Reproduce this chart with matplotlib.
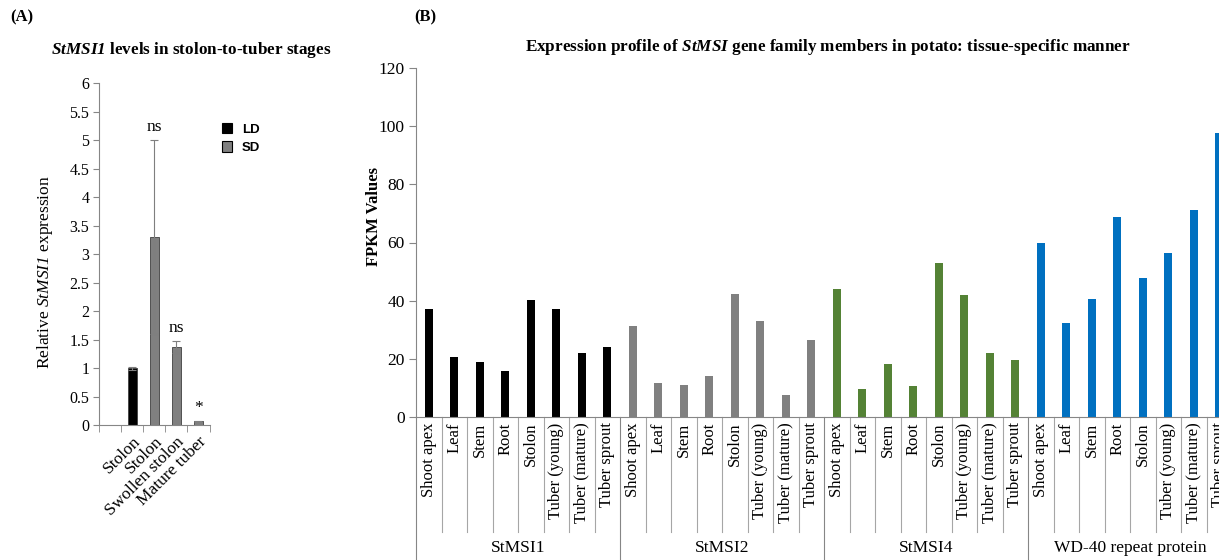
import numpy as np
import matplotlib
matplotlib.use("Agg")
import matplotlib.pyplot as plt
from matplotlib.patches import Patch
from matplotlib.transforms import blended_transform_factory

plt.rcParams['font.family'] = ['Liberation Serif', 'DejaVu Serif']
plt.rcParams['mathtext.fontset'] = 'custom'
plt.rcParams['mathtext.rm'] = 'Liberation Serif'
plt.rcParams['mathtext.it'] = 'Liberation Serif:italic'
plt.rcParams['mathtext.sf'] = 'Liberation Serif:italic'  # italic digits
plt.rcParams['mathtext.bf'] = 'Liberation Serif:bold'
plt.rcParams['mathtext.bfit'] = 'Liberation Serif:italic:bold'

# (A) qPCR, stolon-to-tuber stages
a_stages = ['Stolon', 'Stolon', 'Swollen stolon', 'Mature tuber']
a_condition = ['LD', 'SD', 'SD', 'SD']
a_means = [1.0, 3.31, 1.37, 0.07]
a_errs = [0.03, 1.70, 0.11, 0.01]
a_marks = ['', 'ns', 'ns', '*']

# (B) FPKM, tissue-specific expression
tissues = ['Shoot apex', 'Leaf', 'Stem', 'Root', 'Stolon',
           'Tuber (young)', 'Tuber (mature)', 'Tuber sprout']
genes = ['StMSI1', 'StMSI2', 'StMSI4', 'WD-40 repeat protein']
fpkm_msi1 = [37.0, 20.7, 18.7, 15.7, 40.2, 37.2, 22.0, 24.0]
fpkm_msi2 = [31.2, 11.6, 11.0, 14.0, 42.3, 33.0, 7.5, 26.3]
fpkm_msi4 = [44.0, 9.5, 18.0, 10.5, 53.0, 42.0, 22.0, 19.5]
fpkm_wd40 = [59.7, 32.2, 40.4, 68.9, 47.7, 56.3, 71.2, 97.6]

cond_colors = {'LD': '#000000', 'SD': '#808080'}
gene_colors = ['#000000', '#808080', '#548235', '#0070C0']
axis_grey = '#868686'

W, H = 1219, 560
fig = plt.figure(figsize=(W / 100, H / 100), dpi=100)


def px_axes(x0, y0, x1, y1):
    return fig.add_axes([x0 / W, 1 - y1 / H, (x1 - x0) / W, (y1 - y0) / H])


# ---------------- panel A ----------------
axa = px_axes(99, 83.3, 209.5, 425.3)
pos = np.arange(1, len(a_stages) + 1)
for x, cond, m, e, mark in zip(pos, a_condition, a_means, a_errs, a_marks):
    axa.bar(x, m, width=0.4, color=cond_colors[cond], edgecolor='#404040',
            linewidth=0.6, zorder=2)
    axa.errorbar(x, m, yerr=e, color='#7f7f7f', capsize=3, elinewidth=0.8,
                 capthick=0.8, zorder=3)
    if mark:
        axa.text(x, m + e + 0.08, mark, ha='center', va='bottom', fontsize=12.5)

axa.set_xlim(-0.5, 4.5)
axa.set_ylim(0, 6)
axa.set_yticks(np.arange(0, 6.01, 0.5))
axa.set_yticklabels(['%g' % v for v in np.arange(0, 6.01, 0.5)], fontsize=11.5)
axa.set_xticks(pos)
axa.set_xticklabels(a_stages, rotation=45, ha='right', rotation_mode='anchor',
                    fontsize=12.5)
axa.set_xticks(np.arange(-0.5, 4.6, 1), minor=True)
axa.tick_params(axis='x', which='major', length=0, pad=6)
axa.tick_params(axis='x', which='minor', length=5, color=axis_grey, direction='out')
axa.tick_params(axis='y', length=4, color=axis_grey, pad=3)
for s in ['top', 'right']:
    axa.spines[s].set_visible(False)
for s in ['left', 'bottom']:
    axa.spines[s].set_color(axis_grey)
    axa.spines[s].set_linewidth(0.8)

fig.text(45 / W, 1 - 272 / H, r'Relative $\mathit{StMSI}\mathsf{1}$ expression',
         rotation=90, ha='center', va='center', fontsize=12.5)
fig.text(191 / W, 1 - 50 / H, r'$\mathbfit{StMSI1}$ levels in stolon-to-tuber stages',
         ha='center', va='center', fontsize=12.3, fontweight='bold')
fig.text(22 / W, 1 - 17 / H, '(A)', ha='center', va='center', fontsize=12,
         fontweight='bold')

handles = [Patch(facecolor=cond_colors[c], edgecolor='#000000', linewidth=0.8)
           for c in ['LD', 'SD']]
fig.legend(handles, ['LD', 'SD'], loc='upper left',
           bbox_to_anchor=(210 / W, 1 - 111 / H), frameon=False,
           prop={'family': 'Liberation Sans', 'weight': 'bold', 'size': 9.5},
           handlelength=0.8, handleheight=0.8, handletextpad=0.7,
           labelspacing=0.45)

# ---------------- panel B ----------------
axb = px_axes(416, 68.3, 1232, 416.7)
all_vals = [fpkm_msi1, fpkm_msi2, fpkm_msi4, fpkm_wd40]
n = len(tissues)
for g, vals in enumerate(all_vals):
    xs = np.arange(n) + g * n
    axb.bar(xs, vals, width=0.33, color=gene_colors[g], zorder=2)

axb.set_xlim(-0.5, len(genes) * n - 0.5)
axb.set_ylim(0, 120)
axb.set_yticks(np.arange(0, 121, 20))
axb.set_yticklabels([str(v) for v in range(0, 121, 20)], fontsize=12.5)
axb.set_xticks(np.arange(len(genes) * n))
axb.set_xticklabels(tissues * len(genes), rotation=90, fontsize=12)
axb.tick_params(axis='x', length=0, pad=4)
axb.tick_params(axis='y', length=5, color=axis_grey, pad=3)
for s in ['top', 'right']:
    axb.spines[s].set_visible(False)
for s in ['left', 'bottom']:
    axb.spines[s].set_color(axis_grey)
    axb.spines[s].set_linewidth(0.8)

# category dividers below the axis, group dividers run to the bottom edge
trans = blended_transform_factory(axb.transData, axb.transAxes)
for i in range(len(genes) * n + 1):
    b = i - 0.5
    depth = -0.45 if i % n == 0 else -0.33
    col = axis_grey if i % n == 0 else '#a6a6a6'
    axb.plot([b, b], [0, depth], transform=trans, clip_on=False,
             color=col, linewidth=0.8)
for g, name in enumerate(genes):
    axb.text(g * n + (n - 1) / 2, -0.377, name, transform=trans,
             ha='center', va='center', fontsize=12.5)

fig.text(374 / W, 1 - 217 / H, 'FPKM Values', rotation=90, ha='center',
         va='center', fontsize=12, fontweight='bold')
fig.text(828 / W, 1 - 47 / H,
         r'Expression profile of $\mathbfit{StMSI}$ gene family members in potato: tissue-specific manner',
         ha='center', va='center', fontsize=12.3, fontweight='bold')
fig.text(425 / W, 1 - 17 / H, '(B)', ha='center', va='center', fontsize=12,
         fontweight='bold')

fig.savefig('out.png', dpi=100)
